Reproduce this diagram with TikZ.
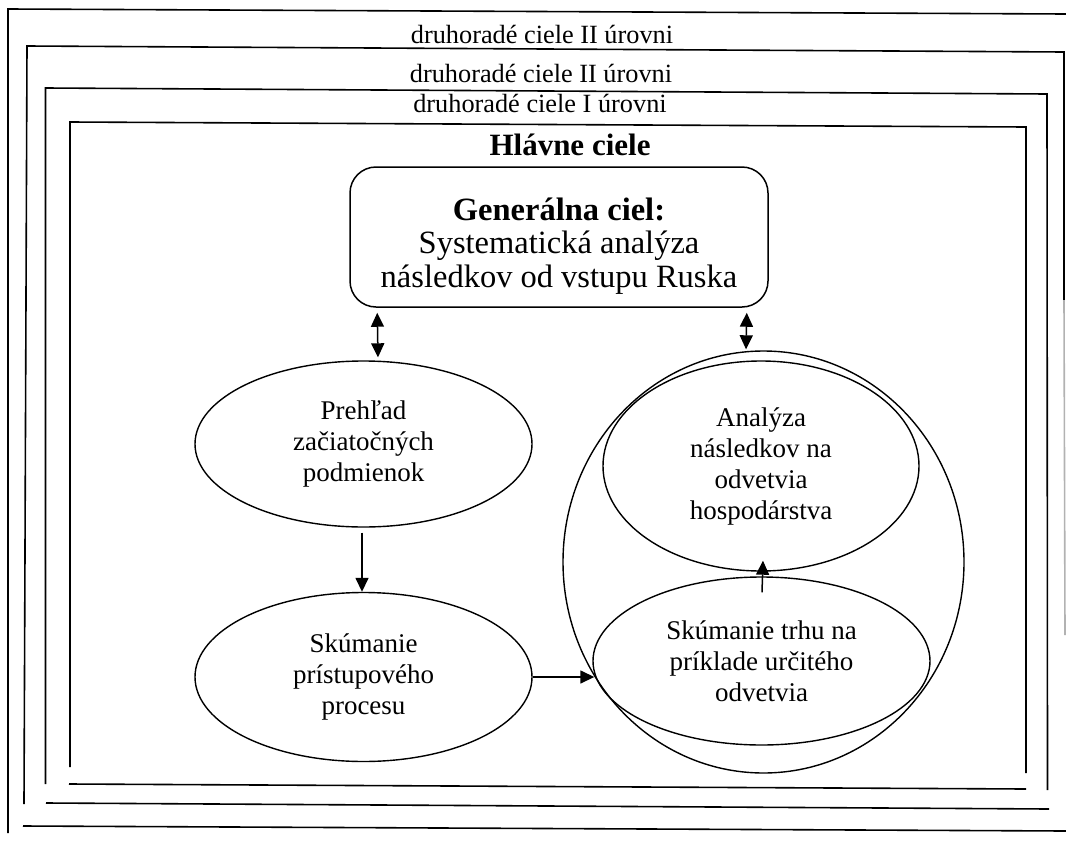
\documentclass[tikz,border=0pt]{standalone}
\usepackage{fontspec}
\setmainfont{Liberation Serif}
\usetikzlibrary{arrows.meta,calc,shapes.geometric}
\begin{document}
\begin{tikzpicture}[x=1pt,y=-1pt,
  frame/.style={line width=1.6pt},
  oval/.style={draw,ellipse,line width=1.4pt,inner sep=0pt,align=center,font=\fontsize{27}{31}\selectfont},
  genbox/.style={draw,rounded corners=26pt,line width=1.5pt,minimum width=418pt,minimum height=140pt,inner sep=0pt},
  gentext/.style={align=center,font=\fontsize{32.5}{33.5}\selectfont},
  ttl/.style={anchor=base,font=\fontsize{26.3}{30}\selectfont},
  arr/.style={line width=1.5pt,-{Triangle[length=14pt,width=13pt]}},
  dbl/.style={line width=1.5pt,{Triangle[length=14pt,width=13pt]}-{Triangle[length=14pt,width=13pt]}}]
\useasboundingbox (0,0) rectangle (1066,854);
% frames
\draw[frame] (8,833) -- (8,9) -- (1066,14);
\draw[frame] (23,826) -- (1066,831);
\draw[frame] (24,804) -- (27,46) -- (1064,52) -- (1064,300);
\draw[line width=1.6pt,gray!60] (1064,300) -- (1065,635);
\draw[frame] (46,803) -- (1049,809);
\draw[frame] (45.5,784) -- (45.5,88) -- (1047,94) -- (1047.5,790);
\draw[frame] (69,784) -- (1026,789);
\draw[frame] (70,767) -- (70,122) -- (1026,127) -- (1026,773);
% titles
\node[ttl] (t1) at (542,43) {druhoradé ciele II úrovni};
\node[ttl] (t2) at (541,82) {druhoradé ciele II úrovni};
\node[ttl] (t3) at (540,112) {druhoradé ciele I úrovni};
\node[ttl,font=\fontsize{31}{34}\selectfont\bfseries] (t4) at (570,155) {Hlávne ciele};
% general goal
\node[genbox] (gen) at (559,237) {};
\node[gentext] (gent) at (559,246) {\textbf{Generálna ciel:}\\Systematická analýza\\následkov od vstupu Ruska};
% ovals
\node[oval,minimum width=337pt,minimum height=166pt] (e1) at (363.5,444) {Prehľad\\začiatočných\\podmienok};
\node[oval,minimum width=337pt,minimum height=169pt] (e2) at (363.5,677) {Skúmanie\\prístupového\\procesu};
\node[oval,minimum width=401pt,minimum height=422pt] (big) at (763.5,562) {};
\node[oval,minimum width=316pt,minimum height=210pt] (e3) at (761,466) {Analýza\\následkov na\\odvetvia\\hospodárstva};
\node[oval,minimum width=337pt,minimum height=168pt] (e4) at (761.5,661) {Skúmanie trhu na\\príklade určitého\\odvetvia};
% connectors
\draw[dbl] ($(gen.south west)+(28,5)$) -- ($(e1.north)+(14.5,-3)$);
\draw[dbl] ($(gen.south east)+(-22,5)$) -- ($(big.north)+(-17.5,-1)$);
\draw[arr] ($(e1.south)+(-1.5,5)$) -- ($(e2.north)+(-1.5,0)$);
\draw[arr] (e2.east) -- ($(e2.east -| e4.west)+(2,0)$);
\draw[arr] ($(e4.north)+(0.5,16)$) -- ($(e3.south)+(2,-11)$);
\end{tikzpicture}
\end{document}
